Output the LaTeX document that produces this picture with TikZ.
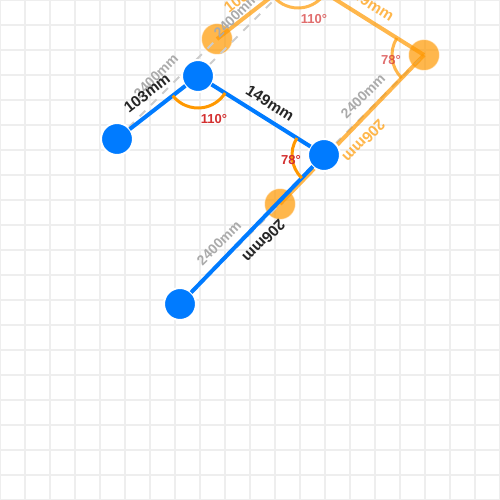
\documentclass[tikz,border=0pt]{standalone}
\usepackage{fontspec}
\setmainfont{Liberation Sans}
\usetikzlibrary{backgrounds}
\definecolor{gridline}{HTML}{EEEEEE}
\definecolor{wallblue}{HTML}{007BFF}
\definecolor{ghostorange}{HTML}{FF9800}
\definecolor{anglered}{HTML}{D32F2F}
\definecolor{movegray}{HTML}{AAAAAA}
\definecolor{movedash}{HTML}{CCCCCC}

\begin{document}
\begin{tikzpicture}[x=1pt,y=-1pt,
  every node/.style={font=\bfseries,inner sep=0pt,outer sep=0pt},
  vertex/.style={circle,minimum size=32pt,fill=wallblue,draw=white,line width=2pt},
  ghostvertex/.style={circle,minimum size=31pt,fill=ghostorange,draw=white,line width=1pt,fill opacity=0.7,draw opacity=0.5},
  wall/.style={wallblue,line width=4pt},
  ghostwall/.style={ghostorange,opacity=0.7,line width=4pt},
  movepath/.style={movedash,line width=2pt,dash pattern=on 8pt off 8pt},
  turn/.style={ghostorange,line width=3pt},
  ghostturn/.style={ghostorange,line width=3pt,opacity=0.7},
  walltext/.style={font=\fontsize{15.5}{15.5}\bfseries,text=black!85},
  ghosttext/.style={font=\fontsize{15.5}{15.5}\bfseries,text=ghostorange,text opacity=0.7},
  movetext/.style={font=\fontsize{14}{14}\bfseries,text=movegray},
  angletext/.style={font=\fontsize{13}{13}\bfseries,text=anglered},
  ghostangle/.style={font=\fontsize{13}{13}\bfseries,text=anglered,text opacity=0.7}]

\useasboundingbox (0,0) rectangle (500,500);
\clip (0,0) rectangle (500,500);

% the wall as it stands now
\node[vertex] (ptA) at (117,139) {};
\node[vertex] (ptB) at (198,76) {};
\node[vertex] (ptC) at (324,155) {};
\node[vertex] (ptD) at (180,304) {};

\begin{scope}[on background layer]
\foreach \i in {0,25,...,500}{
  \draw[gridline,line width=2.5pt] (\i,0)--(\i,500);
  \draw[gridline,line width=2.5pt] (0,\i)--(500,\i);
}

% the wall before it was moved
\node[ghostvertex] (ghostA) at (217,39) {};
\coordinate (ghostB) at (298,-24);
\node[ghostvertex] (ghostC) at (424,55) {};
\node[ghostvertex] (ghostD) at (280,204) {};

\draw[movepath] (ptA.center)--(ghostA.center);
\draw[movepath] (ptB.center)--(ghostB);
\draw[movepath] (ptC.center)--(ghostC.center);
\draw[movepath] (ptD.center)--(ghostD.center);

\draw[ghostwall] (ghostA.center)--(ghostB);
\draw[ghostwall] (ghostB)--(ghostC.center);
\draw[ghostwall] (ghostC.center)--(ghostD.center);

\draw[ghostturn,shift={(ghostB)}] (217.9:32pt) arc[start angle=217.9,end angle=327.9,radius=32pt];
\draw[ghostturn,shift={(ghostC.center)}] (147.9:32pt) arc[start angle=147.9,end angle=226,radius=32pt];
\end{scope}

\draw[wall] (ptA)--(ptB);
\draw[wall] (ptB)--(ptC);
\draw[wall] (ptC)--(ptD);

\draw[turn,shift={(ptB.center)}] (217.9:32pt) arc[start angle=217.9,end angle=327.9,radius=32pt];
\draw[turn,shift={(ptC.center)}] (147.9:32pt) arc[start angle=147.9,end angle=226,radius=32pt];

\node[movetext,rotate=45] (moveA) at (156,76) {2400mm};
\node[movetext,rotate=45] (moveB) at (236,15) {2400mm};
\node[movetext,rotate=45] (moveC) at (363,96) {2400mm};
\node[movetext,rotate=45] (moveD) at (219,243) {2400mm};

\node[walltext,rotate=37.9] (lenAB) at (147,93) {103mm};
\node[walltext,rotate=-32.1] (lenBC) at (270,103) {149mm};
\node[walltext,rotate=226] (lenCD) at (264,241) {206mm};
\node[ghosttext,rotate=37.9] (ghostAB) at (247,-7) {103mm};
\node[ghosttext,rotate=-32.1] (ghostBC) at (370,3) {149mm};
\node[ghosttext,rotate=226] (ghostCD) at (364,141) {206mm};

\node[angletext] (turnB) at (214,119) {110°};
\node[angletext] (turnC) at (291,160) {78°};
\node[ghostangle] (ghostturnB) at (314,19) {110°};
\node[ghostangle] (ghostturnC) at (391,60) {78°};
\end{tikzpicture}
\end{document}
